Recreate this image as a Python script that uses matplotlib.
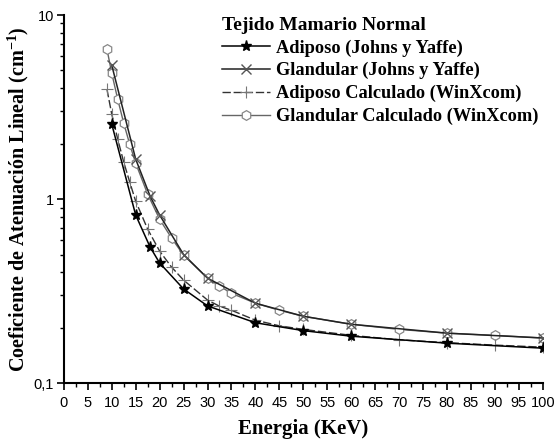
import matplotlib.pyplot as plt
from matplotlib.ticker import MultipleLocator, FixedLocator, NullFormatter, FixedFormatter

# Johns y Yaffe data
e_jy = [10, 15, 18, 20, 25, 30, 40, 50, 60, 80, 100]
adip_jy = [2.56, 0.82, 0.55, 0.45, 0.325, 0.263, 0.213, 0.193, 0.180, 0.165, 0.155]
gland_jy = [5.35, 1.65, 1.04, 0.82, 0.50, 0.372, 0.272, 0.231, 0.209, 0.187, 0.176]

# WinXcom calculated data
e_wx = [9, 10, 11.25, 12.5, 13.75, 15, 17.5, 20, 22.5, 25, 30, 32.5, 35, 40,
        45, 50, 60, 70, 80, 90, 100]
adip_wx = [3.96, 2.90, 2.12, 1.59, 1.24, 0.975, 0.687, 0.522, 0.427, 0.363,
           0.283, 0.262, 0.249, 0.220, 0.205, 0.196, 0.182, 0.172, 0.166, 0.161, 0.157]
gland_wx = [6.54, 4.84, 3.49, 2.59, 1.99, 1.57, 1.065, 0.778, 0.614, 0.496,
            0.372, 0.337, 0.308, 0.272, 0.249, 0.231, 0.209, 0.196, 0.187, 0.182, 0.176]

serif = "Liberation Serif"
plt.rcParams["font.family"] = "Liberation Sans"

fig = plt.figure(figsize=(5.55, 4.43), dpi=100)
ax = fig.add_axes([0.115, 0.135, 0.863, 0.831])

ax.plot(e_jy, adip_jy, color="black", lw=1.1, marker="*", ms=8,
        mfc="black", mec="black", label="Adiposo (Johns y Yaffe)", zorder=4)
ax.plot(e_jy, gland_jy, color="#222222", lw=1.1, marker="x", ms=6.5, mew=1.0,
        mec="#555555", label="Glandular (Johns y Yaffe)", zorder=3)
ax.plot(e_wx, adip_wx, color="#333333", lw=1.0, ls=(0, (6, 2)), marker="+",
        ms=8, mew=0.8, mec="#777777", label="Adiposo Calculado (WinXcom)", zorder=3)
ax.plot(e_wx, gland_wx, color="#666666", lw=1.0, marker="h", ms=7,
        mfc="white", mec="#888888", mew=0.9, label="Glandular Calculado (WinXcom)", zorder=2)

ax.set_yscale("log")
ax.set_xlim(0, 100)
ax.set_ylim(0.1, 10)

ax.xaxis.set_major_locator(MultipleLocator(5))
ax.xaxis.set_minor_locator(MultipleLocator(2.5))
ax.yaxis.set_major_locator(FixedLocator([0.1, 1, 10]))
ax.yaxis.set_major_formatter(FixedFormatter(["0,1", "1", "10"]))
minors = [m * d for d in (0.1, 1) for m in range(2, 10)]
ax.yaxis.set_minor_locator(FixedLocator(minors))
ax.yaxis.set_minor_formatter(NullFormatter())

ax.tick_params(which="major", direction="out", length=5, width=1.2, labelsize=10.5)
ax.tick_params(axis="x", which="major", pad=4)
ax.tick_params(axis="y", which="major", pad=2)
ax.tick_params(which="minor", direction="out", length=3, width=1.0)

for s in ("top", "right"):
    ax.spines[s].set_visible(False)
for s in ("left", "bottom"):
    ax.spines[s].set_linewidth(1.5)

ax.set_xlabel("Energia (KeV)", fontfamily=serif, fontweight="bold", fontsize=15, labelpad=7)
ax.set_ylabel("Coeficiente de Atenuación Lineal (cm$^{\\mathregular{-1}}$)",
              fontfamily=serif, fontweight="bold", fontsize=14.5, labelpad=2)

leg = ax.legend(loc="upper left", bbox_to_anchor=(0.315, 1.015), frameon=False,
                title="Tejido Mamario Normal", handlelength=2.6, handletextpad=0.35,
                labelspacing=0.3, borderaxespad=0,
                prop={"family": serif, "weight": "bold", "size": 13.2},
                title_fontproperties={"family": serif, "weight": "bold", "size": 14})
leg._legend_box.align = "left"

fig.savefig("out.png", dpi=100)
